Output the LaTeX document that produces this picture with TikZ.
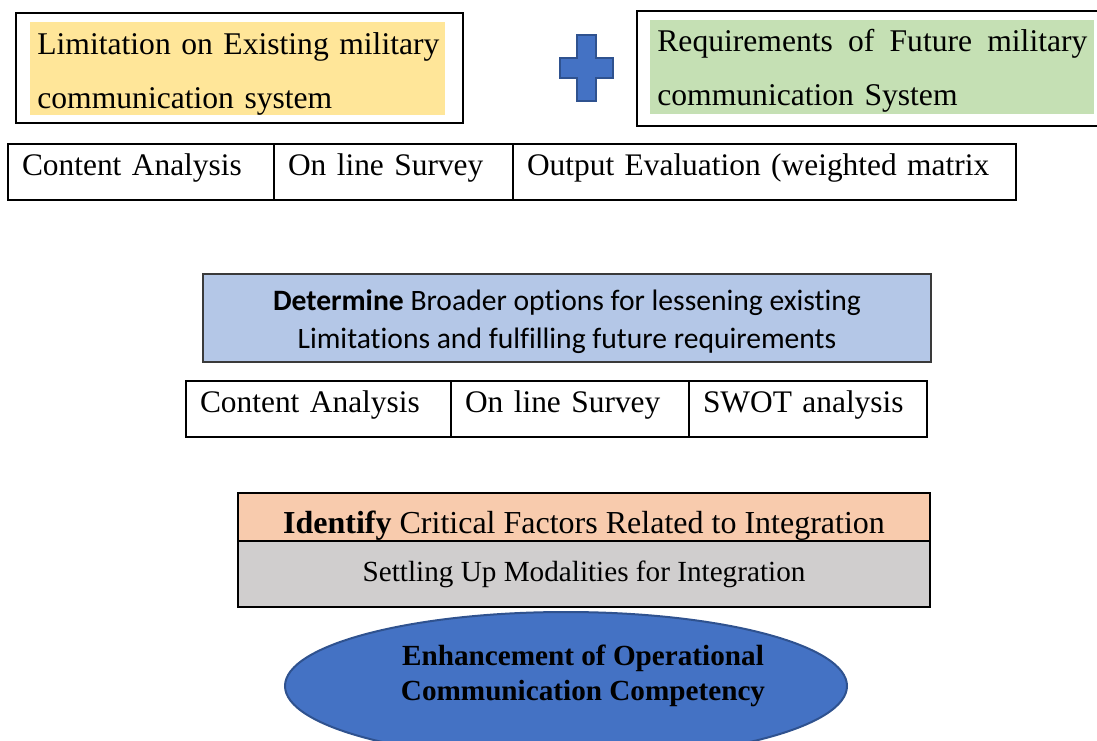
\documentclass[tikz,border=0pt]{standalone}
\usepackage{fontspec}
\setmainfont{Liberation Serif}
\newfontfamily\carlito[Ligatures=NoCommon]{Carlito}
\usetikzlibrary{positioning, shapes.geometric}

\definecolor{limityellow}{HTML}{FFE699}
\definecolor{reqgreen}{HTML}{C5E0B4}
\definecolor{detblue}{HTML}{B4C7E7}
\definecolor{idorange}{HTML}{F8CBAD}
\definecolor{setgray}{HTML}{D0CECE}
\definecolor{plusblue}{HTML}{4472C4}
\definecolor{plusedge}{HTML}{2F528F}
\definecolor{darkedge}{HTML}{3A3A3A}

\tikzset{
  outerbox/.style={draw, line width=1pt, anchor=north west, inner sep=0pt},
  hilite/.style={anchor=north west, inner xsep=3.5pt, inner ysep=0pt, align=left, font=\fontsize{15.8}{27}\selectfont},
  cell/.style={draw, line width=1pt, outer sep=0pt, inner xsep=7pt, inner ysep=0pt, text height=15.5pt, text depth=12.5pt, text width=#1, align=left, font=\fontsize{15.7}{19}\selectfont},
  band/.style={draw, line width=1pt, anchor=north west, minimum width=346pt, inner sep=0pt, outer sep=0pt},
}

\begin{document}
\begin{tikzpicture}[x=0.5pt, y=-0.5pt]
    \useasboundingbox (0,0) rectangle (1097,740);
    \clip (0,0) rectangle (1097,740);

    % top: limitation + requirements
    \node[outerbox, minimum width=223.5pt, minimum height=55pt] (Limit Frame) at (15,12) {};
    \node[hilite, fill=limityellow, text width=200.5pt, minimum height=45pt] (Limit) at (30,22) {\rule{0pt}{16pt}\mbox{Limitation on Existing military}\\\mbox{communication system}};
    \draw[fill=plusblue, draw=plusedge, line width=1pt] (577,35) -- (596,35) -- (596,58) -- (613,58) -- (613,78) -- (596,78) -- (596,101) -- (577,101) -- (577,78) -- (560,78) -- (560,58) -- (577,58) -- cycle;
    \node[outerbox, minimum width=234pt, minimum height=57.5pt] (Req Frame) at (636,10) {};
    \node[hilite, fill=reqgreen, text width=215pt, minimum height=47pt] (Req) at (650,20) {\makebox[215pt]{\rule{0pt}{14.5pt}Requirements\hfill of\hfill Future\hfill military}\\communication System};

    % first method row
    \node[cell=119pt, anchor=north west] (Content 1) at (8,144) {Content Analysis};
    \node[cell=105.5pt, right=0pt of Content 1] (Survey 1) {On line Survey};
    \node[cell=237.5pt, right=0pt of Survey 1] (Output 1) {Output Evaluation (weighted matrix};

    % determine
    \node[draw=darkedge, fill=detblue, line width=1pt, anchor=north west, minimum width=364pt, minimum height=44pt, align=center, font=\carlito\fontsize{14.8}{19}\selectfont] (Determine) at (202,273) {\rule{0pt}{14.5pt}\textbf{Determine} Broader options for lessening existing\\Limitations and fulfilling future requirements};

    % second method row
    \node[cell=118.5pt, anchor=north west] (Content 2) at (186,381) {Content Analysis};
    \node[cell=105pt, right=0pt of Content 2] (Survey 2) {On line Survey};
    \node[cell=105pt, right=0pt of Survey 2] (Swot 2) {SWOT analysis};

    % identify + settling
    \node[band, fill=idorange, minimum height=24pt, text height=16pt, text depth=0pt, font=\fontsize{16}{19}\selectfont] (Identify) at (238,493) {\textbf{Identify} Critical Factors Related to Integration};
    \node[band, fill=setgray, minimum height=33pt, font=\fontsize{14.6}{18}\selectfont, below=0pt of Identify] (Settling) {Settling Up Modalities for Integration};

    % outcome
    \node[ellipse, draw=plusedge, fill=plusblue, line width=1pt, minimum width=281pt, minimum height=74pt] (Enhance) at (566,686) {};
    \node[align=center, font=\bfseries\fontsize{14.6}{17.5}\selectfont] (Enhance Text) at (583,676) {Enhancement of Operational\\Communication Competency};
\end{tikzpicture}
\end{document}
